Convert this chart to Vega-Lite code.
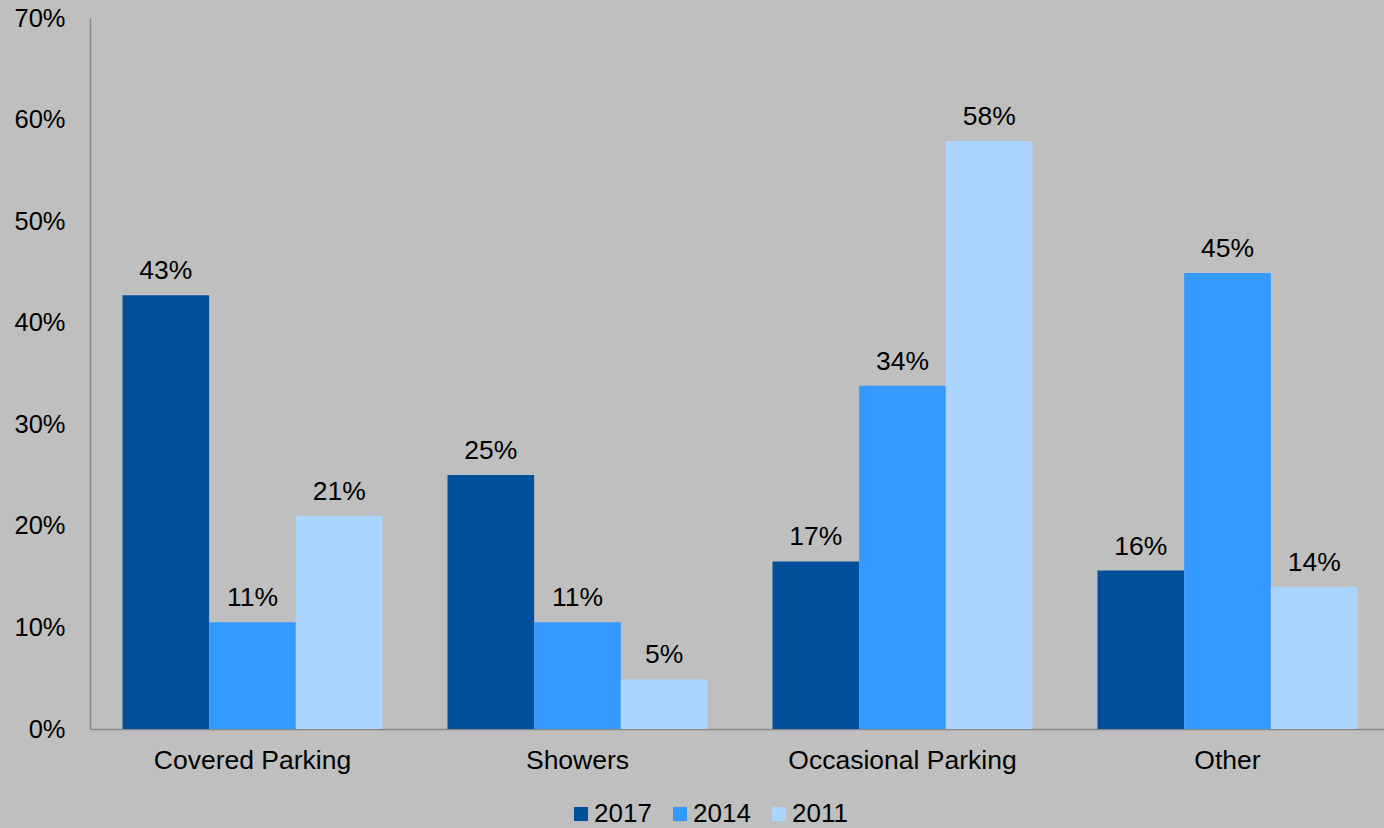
{
  "$schema": "https://vega.github.io/schema/vega-lite/v6.json",
  "width": 1300,
  "height": 711,
  "autosize": {"type": "none"},
  "padding": {"left": 90, "top": 18, "right": -6, "bottom": 99},
  "background": "#bfbfbf",
  "config": {
    "view": {"stroke": null},
    "font": "Liberation Sans",
    "axis": {"labelFont": "Liberation Sans", "labelColor": "#000000", "labelFontSize": 25.5, "labelLimit": 0, "ticks": false, "tickSize": 0, "grid": false, "domainColor": "#888888", "domainWidth": 1.5, "title": null}
  },
  "data": {
    "values": [
      {"category": "Covered Parking", "year": "2017", "value": 0.427},
      {"category": "Covered Parking", "year": "2014", "value": 0.105},
      {"category": "Covered Parking", "year": "2011", "value": 0.21},
      {"category": "Showers", "year": "2017", "value": 0.25},
      {"category": "Showers", "year": "2014", "value": 0.105},
      {"category": "Showers", "year": "2011", "value": 0.049},
      {"category": "Occasional Parking", "year": "2017", "value": 0.165},
      {"category": "Occasional Parking", "year": "2014", "value": 0.338},
      {"category": "Occasional Parking", "year": "2011", "value": 0.579},
      {"category": "Other", "year": "2017", "value": 0.156},
      {"category": "Other", "year": "2014", "value": 0.449},
      {"category": "Other", "year": "2011", "value": 0.14}
    ]
  },
  "encoding": {
    "x": {
      "field": "category", "type": "nominal", "sort": null,
      "scale": {"paddingInner": 0.2, "paddingOuter": 0.1},
      "axis": {"labelAngle": 0, "labelPadding": 18, "labelLimit": 0, "labelFontSize": 26.5, "domainColor": "#888888"}
    },
    "xOffset": {"field": "year", "type": "nominal", "sort": ["2017", "2014", "2011"], "scale": {"paddingInner": 0, "paddingOuter": 0}},
    "y": {
      "field": "value", "type": "quantitative",
      "scale": {"domain": [0, 0.7], "nice": false},
      "axis": {"format": ".0%", "values": [0, 0.1, 0.2, 0.3, 0.4, 0.5, 0.6, 0.7], "labelPadding": 25}
    }
  },
  "layer": [
    {
      "mark": {"type": "bar"},
      "encoding": {
        "color": {
          "field": "year", "type": "nominal",
          "sort": ["2017", "2014", "2011"],
          "scale": {"domain": ["2017", "2014", "2011"], "range": ["#00509b", "#3399ff", "#abd5ff"]},
          "legend": {
            "title": null, "orient": "none", "direction": "horizontal",
            "legendX": 478, "legendY": 783,
            "symbolType": "square", "symbolSize": 196, "symbolStrokeWidth": 0,
            "labelFontSize": 26, "labelColor": "#000000", "labelFont": "Liberation Sans",
            "labelOffset": 0, "columnPadding": 15, "padding": 0
          }
        }
      }
    },
    {
      "mark": {"type": "text", "baseline": "alphabetic", "dy": -16, "fontSize": 26.5, "color": "#000000", "font": "Liberation Sans"},
      "encoding": {
        "text": {"field": "value", "type": "quantitative", "format": ".0%"}
      }
    }
  ]
}
